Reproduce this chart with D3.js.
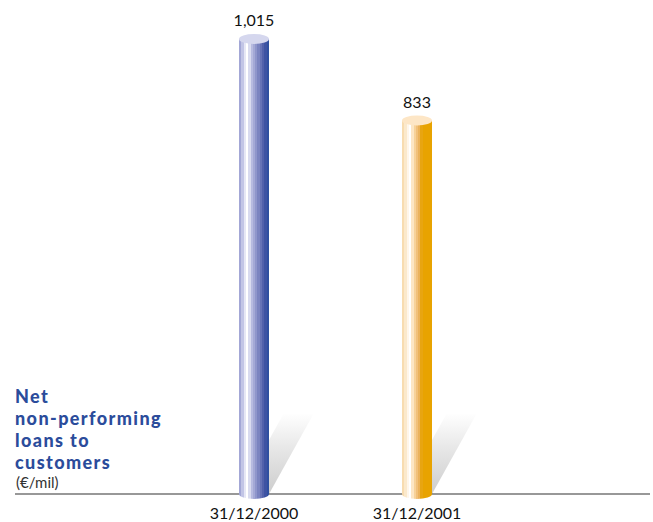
<!DOCTYPE html>
<html>
<head>
<meta charset="utf-8">
<script src="https://cdn.jsdelivr.net/npm/d3@7"></script>
<style>
  html, body { margin: 0; padding: 0; background: #fff; }
  svg { display: block; }
</style>
</head>
<body>
<svg id="chart" width="653" height="522"></svg>
<script>
// Net non-performing loans to customers (€/mil)
const categories = ["31/12/2000", "31/12/2001"];
const values = [1015, 833];
const valueLabels = ["1,015", "833"];
const titleLines = ["Net", "non-performing", "loans to", "customers"];
const unitLabel = "(€/mil)";

// stripe colours for each cylinder, left to right
const blueStripes = ["#a3a7d6", "#c2c5e6", "#e6e7f5", "#ffffff", "#d9dbef", "#b7bbe0",
                     "#a4a9d6", "#8f96cb", "#7b84c0", "#6773b6", "#5261ab", "#3e53a3", "#2f4fa0"];
const orangeStripes = ["#f8dcb0", "#fbe9cc", "#fff6ea", "#ffffff", "#fde6c4", "#f7d29a",
                       "#f1c07a", "#ebb25c", "#e8a511", "#e8a300", "#e8a300", "#e8a300", "#e8a300"];
const topColors = ["#d5d7ee", "#fde6c6"];

const svg = d3.select("#chart");
const baseY = 494;
const barW = 30;

const x = d3.scalePoint().domain(categories).range([254, 417]);
const y = d3.scaleLinear().domain([0, 1015]).range([baseY, 39]);

const defs = svg.append("defs");

function stripeGradient(id, stripes) {
  const g = defs.append("linearGradient").attr("id", id)
    .attr("x1", "0%").attr("x2", "100%").attr("y1", "0%").attr("y2", "0%");
  const n = stripes.length;
  stripes.forEach((c, i) => {
    g.append("stop").attr("offset", (i / n * 100) + "%").attr("stop-color", c);
    g.append("stop").attr("offset", ((i + 1) / n * 100) + "%").attr("stop-color", c);
  });
}
stripeGradient("stripes0", blueStripes);
stripeGradient("stripes1", orangeStripes);

const sg = defs.append("linearGradient").attr("id", "shadowGrad")
  .attr("x1", "0%").attr("x2", "0%").attr("y1", "100%").attr("y2", "0%");
sg.append("stop").attr("offset", "0%").attr("stop-color", "#cdcdcd");
sg.append("stop").attr("offset", "50%").attr("stop-color", "#e4e4e4");
sg.append("stop").attr("offset", "100%").attr("stop-color", "#ffffff");

// cast shadows behind the cylinders
const shDx = 45, shDy = -81;
svg.selectAll("path.shadow").data(categories).join("path")
  .attr("class", "shadow")
  .attr("fill", "url(#shadowGrad)")
  .attr("d", d => {
    const l = x(d) - barW / 2, r = x(d) + barW / 2;
    return `M${l},${baseY} L${r},${baseY} L${r + shDx},${baseY + shDy} L${l + shDx},${baseY + shDy} Z`;
  });

// baseline
svg.append("line")
  .attr("x1", 15).attr("x2", 650)
  .attr("y1", baseY).attr("y2", baseY)
  .attr("stroke", "#333").attr("stroke-width", 1.2);

// cylinder bodies (with rounded bottom)
const ry = 5;
svg.selectAll("path.body").data(categories).join("path")
  .attr("class", "body")
  .attr("fill", (d, i) => `url(#stripes${i})`)
  .attr("d", (d, i) => {
    const l = x(d) - barW / 2, r = x(d) + barW / 2, t = y(values[i]);
    return `M${l},${t} L${r},${t} L${r},${baseY} A${barW / 2},${ry} 0 0 1 ${l},${baseY} Z`;
  });

// cylinder tops
svg.selectAll("ellipse.top").data(categories).join("ellipse")
  .attr("class", "top")
  .attr("cx", d => x(d))
  .attr("cy", (d, i) => y(values[i]))
  .attr("rx", barW / 2).attr("ry", ry)
  .attr("fill", (d, i) => topColors[i]);

// value labels
svg.selectAll("text.value").data(categories).join("text")
  .attr("class", "value")
  .attr("x", d => x(d))
  .attr("y", (d, i) => y(values[i]) - 13)
  .attr("text-anchor", "middle")
  .attr("font-family", "Lato, 'Open Sans', sans-serif")
  .attr("font-size", 16)
  .attr("fill", "#111")
  .text((d, i) => valueLabels[i]);

// category axis labels
svg.selectAll("text.cat").data(categories).join("text")
  .attr("class", "cat")
  .attr("x", d => x(d))
  .attr("y", 519)
  .attr("text-anchor", "middle")
  .attr("font-family", "Lato, 'Open Sans', sans-serif")
  .attr("font-size", 16)
  .attr("fill", "#111")
  .text(d => d);

// title block, one text per line
svg.selectAll("text.title").data(titleLines).join("text")
  .attr("class", "title")
  .attr("x", 15)
  .attr("y", (d, i) => 403 + i * 22)
  .attr("font-family", "Lato, 'Open Sans', sans-serif")
  .attr("font-weight", 900)
  .attr("font-size", 18)
  .attr("letter-spacing", 1.4)
  .attr("fill", "#2b4c9b")
  .text(d => d);

svg.append("text")
  .attr("x", 16).attr("y", 488)
  .attr("font-family", "Lato, 'Open Sans', sans-serif")
  .attr("font-size", 15)
  .attr("fill", "#333")
  .text(unitLabel);
</script>
</body>
</html>
